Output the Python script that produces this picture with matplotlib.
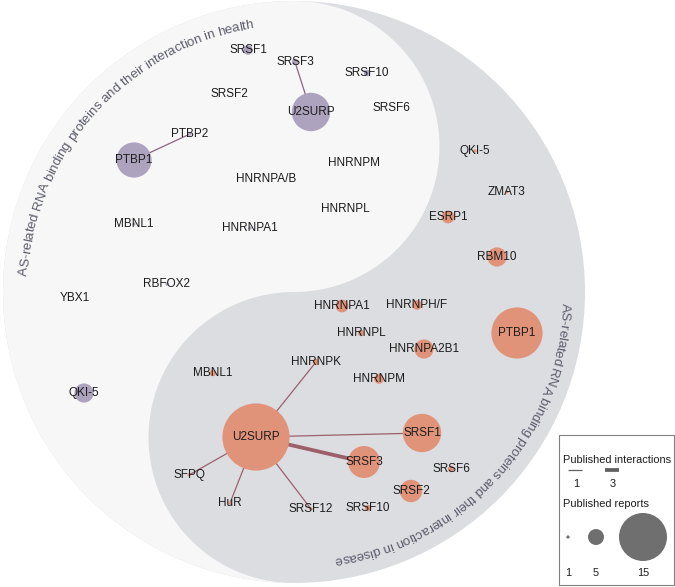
import numpy as np
import matplotlib.pyplot as plt
from matplotlib.patches import Circle, PathPatch, Rectangle
from matplotlib.path import Path
from matplotlib.font_manager import FontProperties, findfont, get_font

W, H = 675, 587
plt.rcParams['font.family'] = ['Liberation Sans', 'DejaVu Sans']

# 健常側ネットワーク (y は画像の上から読んだ値)
health_names = ['SRSF1', 'SRSF3', 'SRSF10', 'SRSF2', 'SRSF6', 'U2SURP', 'PTBP2', 'PTBP1',
                'HNRNPM', 'HNRNPA/B', 'HNRNPL', 'MBNL1', 'HNRNPA1', 'RBFOX2', 'YBX1', 'QKI-5']
health_x = [248, 295, 367, 229, 391, 311, 190, 134, 354, 266, 345, 134, 250, 167, 75, 84]
health_y = [50, 62, 73, 94, 108, 112, 134, 160, 163, 179, 209, 224, 228, 284, 298, 393]
health_reports = [3, 2, 2, 0, 0, 12, 1, 11, 0, 0, 0, 1, 1, 1, 0, 6]
health_edges = [('U2SURP', 'SRSF3', 1), ('PTBP1', 'PTBP2', 1)]

# 疾患側ネットワーク
disease_names = ['QKI-5', 'ZMAT3', 'ESRP1', 'RBM10', 'HNRNPA1', 'HNRNPH/F', 'PTBP1', 'HNRNPL',
                 'HNRNPA2B1', 'HNRNPK', 'MBNL1', 'HNRNPM', 'U2SURP', 'SRSF1', 'SRSF3', 'SRSF6',
                 'SFPQ', 'SRSF2', 'HuR', 'SRSF12', 'SRSF10']
disease_x = [475, 507, 448, 497, 342, 417, 517, 361, 424, 316, 213, 379, 256, 422, 364, 451,
             189, 411, 230, 311, 368]
disease_y = [151, 192, 217, 257, 306, 305, 333, 333, 349, 362, 373, 379, 437, 433, 462, 469,
             475, 491, 503, 509, 508]
disease_reports = [1, 1, 4, 6, 4, 3, 16, 2, 6, 2, 2, 3, 21, 12, 10, 2, 1, 7, 1, 1, 2]
disease_edges = [('U2SURP', 'HNRNPK', 1), ('U2SURP', 'SFPQ', 1), ('U2SURP', 'HuR', 1),
                 ('U2SURP', 'SRSF12', 1), ('U2SURP', 'SRSF1', 1), ('U2SURP', 'SRSF3', 3)]

# 凡例
legend_interactions = [1, 3]
legend_reports = [1, 5, 15]

title_health = 'AS-related RNA binding proteins and their interaction in health'
title_disease = 'AS-related RNA binding proteins and their interaction in disease'

c_light = '#f7f7f7'
c_dark = '#dcdde1'
c_health = '#ada3bf'
c_disease = '#e1937a'
e_health = '#8a6482'
e_disease = '#9c5f6c'
c_title = '#5c5d6c'
px_per_report = 1.6
lw_per_inter = 0.9
label_size = 8.5

fig = plt.figure(figsize=(W / 100, H / 100), dpi=100)
ax = fig.add_axes([0, 0, 1, 1])
ax.set_xlim(0, W)
ax.set_ylim(0, H)
ax.axis('off')

# 陰陽の背景
cx, cy, R = 294, H - 292, 291
r = R / 2
ax.add_patch(Circle((cx, cy), R, fc=c_dark, ec='none', zorder=0))
a = np.deg2rad(np.linspace(90, 270, 120))
verts = [np.column_stack([cx + R * np.cos(a), cy + R * np.sin(a)])]
a = np.deg2rad(np.linspace(270, 90, 120))
verts.append(np.column_stack([cx + r * np.cos(a), cy - r + r * np.sin(a)]))
a = np.deg2rad(np.linspace(-90, 90, 120))
verts.append(np.column_stack([cx + r * np.cos(a), cy + r + r * np.sin(a)]))
verts = np.vstack(verts)
ax.add_patch(PathPatch(Path(verts, closed=True), fc=c_light, ec='none', zorder=1))


# 円弧に沿った文字
def curved_text(s, rad, a0, a1, size, color):
    fp = FontProperties(family='Liberation Sans', size=size)
    font = get_font(findfont(fp))
    font.set_size(size, 100)
    adv = np.array([font.load_char(ord(ch)).linearHoriAdvance / 65536 for ch in s])
    adv = adv * np.deg2rad(a0 - a1) * rad / adv.sum()
    pos = np.cumsum(adv) - adv / 2
    for ch, p in zip(s, pos):
        th = a0 - np.rad2deg(p / rad)
        t = np.deg2rad(th)
        ax.text(cx + rad * np.cos(t), cy + rad * np.sin(t), ch, rotation=th - 90,
                rotation_mode='anchor', ha='center', va='baseline',
                fontproperties=fp, color=color, zorder=2)


curved_text(title_health, 267, 176.5, 98.7, 9.6, c_title)
curved_text(title_disease, 268, -2.3, -81.3, 9.6, c_title)


# ネットワーク描画
def draw_network(names, xs, ys, reports, edges, fc, ec):
    pos = {n: (x, H - y) for n, x, y in zip(names, xs, ys)}
    for a_, b_, w in edges:
        (x0, y0), (x1, y1) = pos[a_], pos[b_]
        ax.plot([x0, x1], [y0, y1], color=ec, lw=lw_per_inter * w,
                solid_capstyle='butt', zorder=3)
    for n, rep in zip(names, reports):
        if rep > 0:
            ax.add_patch(Circle(pos[n], rep * px_per_report, fc=fc, ec='none', zorder=4))
    for n in names:
        ax.text(pos[n][0], pos[n][1], n, ha='center', va='center', fontsize=label_size,
                color='#1c1c1c', zorder=5)


draw_network(health_names, health_x, health_y, health_reports, health_edges, c_health, e_health)
draw_network(disease_names, disease_x, disease_y, disease_reports, disease_edges, c_disease, e_disease)

# 凡例
leg_size = 7.9
ax.add_patch(Rectangle((559, H - 585), 115, 150, fc='white', ec='#808080', lw=0.8, zorder=6))
ax.text(563, H - 460, 'Published interactions', ha='left', va='center', fontsize=leg_size,
        color='#1c1c1c', zorder=7)
for xc, w in zip([575, 612], legend_interactions):
    ax.plot([xc - 7, xc + 7], [H - 470, H - 470], color='#606060', lw=lw_per_inter * w,
            solid_capstyle='butt', zorder=7)
    ax.text(xc + 1, H - 484, str(w), ha='center', va='center', fontsize=leg_size,
            color='#1c1c1c', zorder=7)
ax.text(563, H - 504, 'Published reports', ha='left', va='center', fontsize=leg_size,
        color='#1c1c1c', zorder=7)
for xc, rep in zip([568, 596, 643], legend_reports):
    ax.add_patch(Circle((xc, H - 537), rep * px_per_report, fc='#6f6f6f', ec='none', zorder=7))
    ax.text(xc, H - 573, str(rep), ha='center', va='center', fontsize=leg_size,
            color='#1c1c1c', zorder=7)

fig.savefig('out.png', dpi=100)
